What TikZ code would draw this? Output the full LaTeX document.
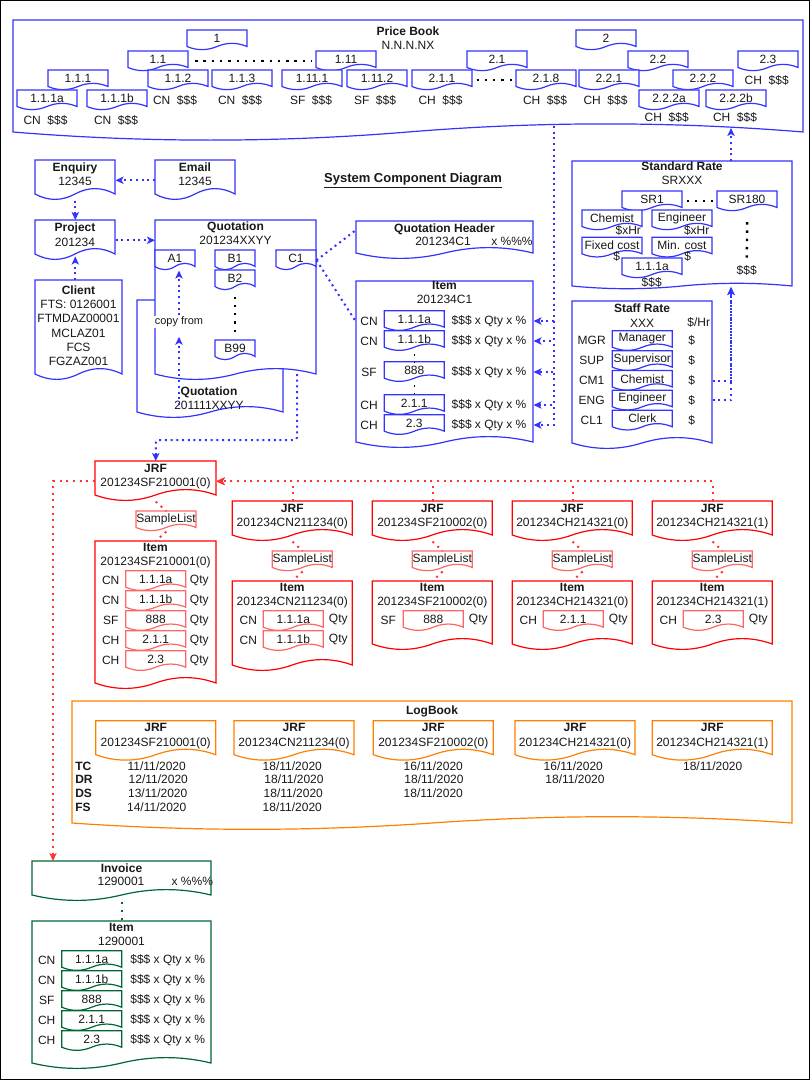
\documentclass[tikz,border=0pt]{standalone}
\usepackage{fontspec}
\setmainfont{Liberation Sans}
\usetikzlibrary{arrows.meta,calc}
\definecolor{cblue}{RGB}{51,51,255}
\definecolor{cred}{RGB}{255,0,0}
\definecolor{credl}{RGB}{255,102,102}
\definecolor{cdot}{RGB}{255,51,51}
\definecolor{corange}{RGB}{255,128,0}
\definecolor{cgreen}{RGB}{0,102,51}
\definecolor{ctext}{RGB}{25,25,25}

\newcommand\DocShape[6]{%
  \path[#1] (#2,#3) -- ({#2+#4},#3) -- ({#2+#4},{#3+#5-#6/2})
    .. controls ({#2+5*#4/6},{#3+#5-1.1*#6}) and ({#2+2*#4/3},{#3+#5-1.1*#6}) .. ({#2+#4/2},{#3+#5-#6/2})
    .. controls ({#2+#4/3},{#3+#5+0.1*#6}) and ({#2+#4/6},{#3+#5+0.1*#6}) .. (#2,{#3+#5-#6/2}) -- cycle;}
\newcommand\Doc[8]{%
  \DocShape{#1}{#3}{#4}{#5}{#6}{#7}%
  \node[anchor=north west, inner sep=0, minimum width={#5*0.75pt}, minimum height={#6*0.75pt}] (#2) at (#3,#4) {};%
  \node[txt] (#2-t) at ({#3+#5/2},{#4+(#6-#7/2)/2}) {#8};}

\tikzset{
  txt/.style={font=\fontsize{9}{10.7}\selectfont, text=ctext, inner sep=0, align=center},
  bb/.style={draw=cblue, fill=white, line width=0.9pt},
  rb/.style={draw=cred, fill=white, line width=0.9pt},
  rl/.style={draw=credl, fill=white, line width=0.9pt},
  ob/.style={draw=corange, fill=white, line width=0.9pt},
  gb/.style={draw=cgreen, fill=white, line width=0.9pt},
  dotb/.style={cblue, line width=1.5pt, dash pattern=on 1.5pt off 2.8pt},
  dotr/.style={cdot, line width=1.5pt, dash pattern=on 1.5pt off 3.5pt},
  dotg/.style={cgreen, line width=1.5pt, dash pattern=on 1.5pt off 4.5pt},
  dotk/.style={black, line width=1.8pt, dash pattern=on 1.8pt off 4.4pt},
  arr/.style={-{Stealth[length=6pt,width=5.5pt,inset=1.5pt]}}
}

\begin{document}
\begin{tikzpicture}[x=0.75pt,y=-0.75pt]
\fill[white] (0,0) rectangle (812,1081);
\useasboundingbox (0,0) rectangle (812,1081);
\draw[black, line width=0.9pt] (0.6,0.6) rectangle (809.5,1079.4);

% ---------- Price Book ----------
\Doc{bb}{pb}{13}{20}{790}{121}{18}{}
\node[txt,anchor=north] (pb-l) at (408,26.5) {\textbf{Price Book}\\N.N.N.NX};
\foreach \n/\x/\y/\t in {p1/187/30/1, p11/128/51/1.1, p111x/316/51/1.11, p111/48/70/1.1.1, p112/148/70/1.1.2, p113/212/70/1.1.3, p1111/282/70/1.11.1, p1112/347/70/1.11.2, p111a/17/90/1.1.1a, p111b/87/90/1.1.1b, p2/576/30/2, p21/467/51/2.1, p22/628/51/2.2, p23/738/51/2.3, p211/412/70/2.1.1, p218/516/70/2.1.8, p221/579/70/2.2.1, p222/673/70/2.2.2, p222a/639/90/2.2.2a, p222b/706/90/2.2.2b}
  {\Doc{bb}{\n}{\x}{\y}{60}{20}{7}{\t}}
\foreach \n/\x/\y/\c in {pl1/175/100/CN, pl2/240/100/CN, pl3/311/100/SF, pl4/375/100/SF, pl5/45.5/120/CN, pl6/116/120/CN, pl7/440.5/100/CH, pl8/545/100/CH, pl9/605.5/100/CH, pl10/766.7/80/CH, pl11/666.7/117/CH, pl12/735/117/CH}
  {\node[txt] (\n) at (\x,\y) {\c\hspace{0.55em}\$\$\$};}
\draw[dotk, shorten <=5pt, shorten >=3pt] (p11.east) -- (p111x.west);
\draw[dotk, shorten <=3pt, shorten >=2pt] (p211.east) -- (p218.west);

% ---------- Title ----------
\node[txt, font=\fontsize{9.75}{12}\selectfont\bfseries] (title) at (413,181) {\underline{System Component Diagram}};

% ---------- Enquiry / Email / Project / Client ----------
\Doc{bb}{enq}{35}{160}{80}{40}{12}{}
\node[txt,anchor=north] (enq-l) at (75,162.5) {\textbf{Enquiry}\\12345};
\Doc{bb}{email}{155}{160}{80}{40}{12}{}
\node[txt,anchor=north] (email-l) at (195,162.5) {\textbf{Email}\\12345};
\Doc{bb}{proj}{35}{220}{80}{40}{12}{}
\node[txt,anchor=north] (proj-l) at (75,223) {\textbf{Project}\\201234};
\Doc{bb}{client}{35}{280}{87}{100}{12}{}
\node[txt,anchor=north] (client-l) at (78.5,285.5) {\textbf{Client}\\FTS: 0126001\\FTMDAZ00001\\MCLAZ01\\FCS\\FGZAZ001};

% ---------- Quotations ----------
\Doc{bb}{oldq}{137}{300}{146}{118}{12}{}
\node[txt,anchor=north] (oldq-l) at (209,386.5) {\textbf{Quotation}\\201111XXYY};
\Doc{bb}{quot}{155}{220}{161}{160}{12}{}
\node[txt,anchor=north] (quot-l) at (235.5,221.5) {\textbf{Quotation}\\201234XXYY};
\Doc{bb}{qa1}{155}{250}{40}{20}{7}{A1}
\Doc{bb}{qb1}{215}{250}{40}{20}{7}{B1}
\Doc{bb}{qb2}{215}{270}{40}{20}{7}{B2}
\Doc{bb}{qb99}{215}{340}{40}{20}{7}{B99}
\Doc{bb}{qc1}{276}{250}{40}{20}{7}{C1}
\draw[dotk, shorten <=4.5pt, shorten >=6pt] (qb2.south) -- (qb99.north);
\node[txt, font=\fontsize{8.25}{10}\selectfont, fill=white, inner sep=1pt] (cpf) at (179,322) {copy from};
\coordinate (cpf-s) at (179,405);

% ---------- Quotation Header / Item ----------
\Doc{bb}{qh}{356}{221}{177}{38}{12}{}
\node[txt,anchor=north] (qh-l) at (444.5,223.3) {\textbf{Quotation Header}};
\node[txt] (qh-id) at (443,241.7) {201234C1};
\node[txt] (qh-x) at (512,241.7) {x \%\%\%};
\Doc{bb}{qi}{356}{281}{177}{167}{12}{}
\node[txt,anchor=north] (qi-l) at (444.5,281) {\textbf{Item}\\201234C1};
\foreach \i/\y/\c/\t in {1/321/CN/1.1.1a, 2/341/CN/1.1.1b, 3/372/SF/888, 4/405/CH/2.1.1, 5/425/CH/2.3} {
  \node[txt] (qi-c\i) at (369,\y) {\c};
  \Doc{bb}{qi-t\i}{384.3}{\y-10.3}{60}{20}{7}{\t}
  \node[txt] (qi-v\i) at (489,\y) {\$\$\$ x Qty x \%};
}
\draw[black, line width=1.3pt, dash pattern=on 1.3pt off 4.5pt, shorten <=2pt] (qi-t2.south) -- (qi-t3.north);
\draw[black, line width=1.3pt, dash pattern=on 1.3pt off 4.5pt, shorten <=2pt] (qi-t3.south) -- (qi-t4.north);

% ---------- Standard Rate ----------
\Doc{bb}{sr}{572}{161}{220}{128}{6}{}
\node[txt,anchor=north] (sr-l) at (682,161.5) {\textbf{Standard Rate}\\SRXXX};
\Doc{bb}{sr1}{622}{191}{60}{20}{7}{SR1}
\Doc{bb}{sr180}{717}{191}{60}{20}{7}{SR180}
\Doc{bb}{srch}{582}{210}{60}{20}{7}{Chemist}
\Doc{bb}{sren}{652}{210}{60}{20}{7}{Engineer}
\Doc{bb}{srfc}{582}{237.3}{60}{20}{7}{Fixed cost}
\Doc{bb}{srmc}{652}{237.3}{60}{20}{7}{Min. cost}
\Doc{bb}{sra}{622}{258}{60}{20}{7}{1.1.1a}
\node[txt] (srx1) at (628.3,230) {\$xHr};
\node[txt] (srx2) at (696.7,230) {\$xHr};
\node[txt] (srs1) at (616.7,256.7) {\$};
\node[txt] (srs2) at (687.7,256.7) {\$};
\node[txt] (srs3) at (651.7,282.7) {\$\$\$};
\node[txt] (srd) at (746.7,270.7) {\$\$\$};
\draw[dotk, shorten <=3pt, shorten >=3pt] (sr1.east) -- (sr180.west);
\draw[dotk, shorten <=8pt, shorten >=5pt] (sr180.south) -- (srd.north);

% ---------- Staff Rate ----------
\Doc{bb}{st}{572}{301}{140}{148}{12}{}
\node[txt,anchor=north] (st-l) at (642,304) {\textbf{Staff Rate}\\XXX};
\node[txt] (st-hr) at (698.7,322.7) {\$/Hr};
\foreach \i/\y/\c/\t in {1/340.7/MGR/Manager, 2/360.7/SUP/Supervisor, 3/380.5/CM1/Chemist, 4/400.3/ENG/Engineer, 5/420.3/CL1/Clerk} {
  \node[txt] (st-c\i) at (591.7,\y) {\c};
  \Doc{bb}{st-t\i}{612.3}{\y-10}{60}{20}{7}{\t}
  \node[txt] (st-d\i) at (691.7,\y) {\$};
}

% ---------- JRFs ----------
\Doc{rb}{j1}{95}{461}{121}{40}{12}{}
\node[txt,anchor=north] (j1-l) at (155.5,464) {\textbf{JRF}\\201234SF210001(0)};
\Doc{rl}{s1}{136}{511}{60}{20}{7}{SampleList}
\Doc{rb}{i1}{95}{541}{121}{148}{12}{}
\node[txt,anchor=north] (i1-l) at (155.5,542.7) {\textbf{Item}\\201234SF210001(0)};
\foreach \i/\y/\c/\t in {1/580.7/CN/1.1.1a, 2/600.7/CN/1.1.1b, 3/620.7/SF/888, 4/640.7/CH/2.1.1, 5/660.7/CH/2.3} {
  \node[txt] (i1-c\i) at (110.7,\y) {\c};
  \Doc{rl}{i1-t\i}{125.7}{\y-10}{60}{20}{7}{\t}
  \node[txt] (i1-q\i) at (199.3,\y) {Qty};
}
\foreach \k/\L/\id/\h in {2/232.3/201234CN211234(0)/90, 3/372.3/201234SF210002(0)/69, 4/512.3/201234CH214321(0)/69, 5/652.3/201234CH214321(1)/69} {
  \Doc{rb}{j\k}{\L}{501}{120}{40}{12}{}
  \node[txt,anchor=north] (j\k-l) at (\L+60,504) {\textbf{JRF}\\\id};
  \Doc{rl}{s\k}{\L+40}{551}{60}{20}{7}{SampleList}
  \Doc{rb}{i\k}{\L}{581}{120}{\h}{12}{}
  \node[txt,anchor=north] (i\k-l) at (\L+60,582.7) {\textbf{Item}\\\id};
}
\foreach \n/\L/\y/\c/\t in {r2a/232.3/620/CN/1.1.1a, r2b/232.3/640/CN/1.1.1b, r3/372.3/620/SF/888, r4/512.3/620/CH/2.1.1, r5/652.3/620/CH/2.3} {
  \node[txt] (\n-c) at (\L+16,\y) {\c};
  \Doc{rl}{\n-t}{\L+31}{\y-9.3}{60}{20}{7}{\t}
  \node[txt] (\n-q) at (\L+106,\y) {Qty};
}

% ---------- LogBook ----------
\Doc{ob}{lb}{72}{701}{720}{129}{14}{}
\node[txt,anchor=north] (lb-l) at (432,705.5) {\textbf{LogBook}};
\foreach \n/\L/\id in {a/95.7/201234SF210001(0), b/234/201234CN211234(0), c/373.3/201234SF210002(0), d/515/201234CH214321(0), e/652.3/201234CH214321(1)} {
  \Doc{ob}{lj\n}{\L}{720.7}{120}{40}{12}{}
  \node[txt,anchor=north] (lj\n-l) at (\L+60,723.3) {\textbf{JRF}\\\id};
}
\foreach \n/\y in {TC/766, DR/779.7, DS/793.3, FS/807}
  {\node[txt,anchor=west] (lr\n) at (75,\y) {\textbf{\n}};}
\node[txt] (da1) at (156.7,766) {11/11/2020};
\node[txt] (da2) at (158.3,779.7) {12/11/2020};
\node[txt] (da3) at (157.7,793.3) {13/11/2020};
\node[txt] (da4) at (156.7,807) {14/11/2020};
\node[txt] (db1) at (292.3,766) {18/11/2020};
\node[txt] (db2) at (294,779.7) {18/11/2020};
\node[txt] (db3) at (293.3,793.3) {18/11/2020};
\node[txt] (db4) at (292.3,807) {18/11/2020};
\node[txt] (dc1) at (433.3,766) {16/11/2020};
\node[txt] (dc2) at (434,779.7) {18/11/2020};
\node[txt] (dc3) at (433.3,793.3) {18/11/2020};
\node[txt] (dd1) at (573.3,766) {16/11/2020};
\node[txt] (dd2) at (575,779.7) {18/11/2020};
\node[txt] (de1) at (712.7,766) {18/11/2020};

% ---------- Invoice ----------
\Doc{gb}{inv}{32}{861}{179}{40}{12}{}
\node[txt,anchor=north] (inv-l) at (121.5,863.3) {\textbf{Invoice}};
\node[txt] (inv-id) at (121,881.7) {1290001};
\node[txt] (inv-x) at (192.3,881.7) {x \%\%\%};
\Doc{gb}{ii}{32}{921}{179}{148}{12}{}
\node[txt,anchor=north] (ii-l) at (121.5,922.7) {\textbf{Item}\\1290001};
\foreach \i/\y/\c/\t in {1/960/CN/1.1.1a, 2/980/CN/1.1.1b, 3/1000/SF/888, 4/1020/CH/2.1.1, 5/1040/CH/2.3} {
  \node[txt] (ii-c\i) at (46.7,\y) {\c};
  \Doc{gb}{ii-t\i}{61.7}{\y-9.3}{60}{20}{7}{\t}
  \node[txt] (ii-v\i) at (167.7,\y) {\$\$\$ x Qty x \%};
}

% ---------- Connectors ----------
\coordinate (pb-out) at (554,126);
\coordinate (pb-in) at (731,128);
\coordinate (sr-in) at (731,287);
\coordinate (q-out) at (297,374);
\coordinate (inv-in) at (53,861);

\draw[dotb,arr] (email.west) -- (enq.east);
\draw[dotb,arr] (enq.south) -- (proj.north);
\draw[dotb,arr] (proj.south |- client.north) -- ([yshift=3pt]proj.south);
\draw[dotb,arr] (proj.east) -- (proj.east -| quot.west);
\draw[dotb,arr] (cpf-s) -- ([yshift=-6pt]cpf.south);
\draw[dotb,arr] (cpf.north) -- (qa1.south -| cpf-s);
\draw[dotb] (qc1.east) -- ([yshift=-6.75pt]qh.north west);
\draw[dotb] (qc1.east) -- ([yshift=-30.75pt]qi.north west);
\foreach \i in {1,...,5} {\draw[dotb,arr] (pb-out) |- (qi.east |- qi-v\i);}
\draw[dotb,arr] (sr.north -| pb-in) -- (pb-in);
\draw[dotb,arr] (st.east |- st-c3) -| (sr-in);
\draw[dotb,arr] (st.east |- st-c4) -| (sr-in);
\draw[dotb,arr,rounded corners=2pt] (q-out) -- ++(0,66) -| (j1.north);

\foreach \k in {1,...,5} {
  \draw[dotr] (j\k.south) -- (s\k.north);
  \draw[dotr] (s\k.south) -- (i\k.north);
}
\foreach \k in {2,...,5} {\draw[dotr,arr] (j\k.north) |- (j1.east);}
\draw[dotr,arr] (j1.west) -| (inv-in);
\draw[dotg] (inv.south) -- (ii.north);
\end{tikzpicture}
\end{document}
